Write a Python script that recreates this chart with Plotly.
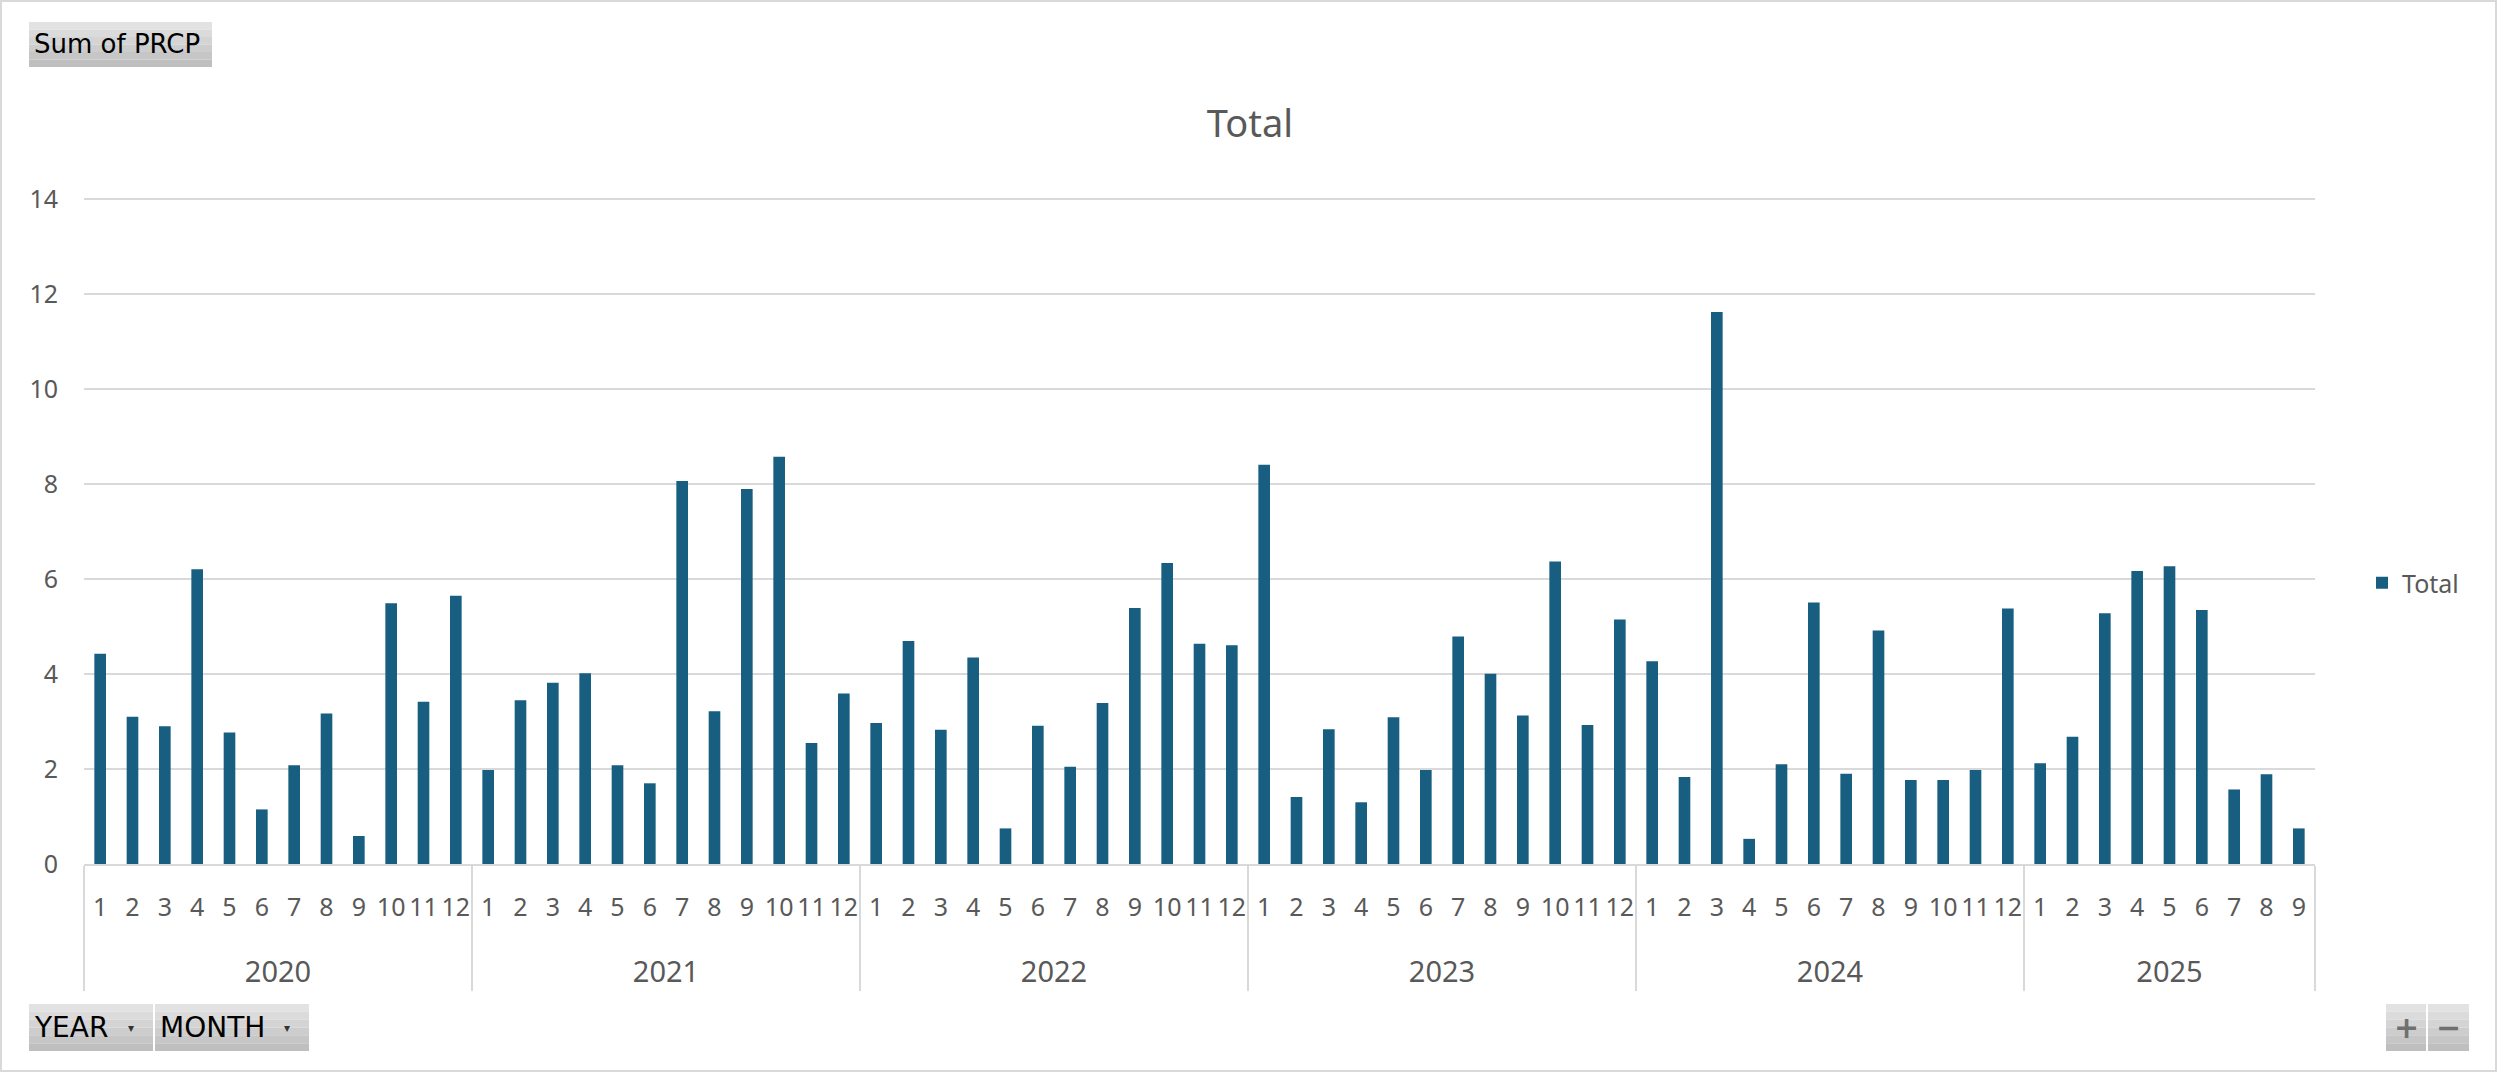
import plotly.graph_objects as go

# monthly precipitation sums
years = ["2020", "2021", "2022", "2023", "2024", "2025"]
months_per_year = [12, 12, 12, 12, 12, 9]
prcp_2020 = [4.43, 3.10, 2.90, 6.21, 2.77, 1.15, 2.08, 3.17, 0.59, 5.49, 3.42, 5.65]
prcp_2021 = [1.98, 3.45, 3.82, 4.02, 2.08, 1.70, 8.07, 3.22, 7.90, 8.58, 2.55, 3.59]
prcp_2022 = [2.97, 4.70, 2.83, 4.35, 0.75, 2.91, 2.05, 3.39, 5.39, 6.34, 4.64, 4.61]
prcp_2023 = [8.41, 1.41, 2.84, 1.30, 3.09, 1.98, 4.79, 4.01, 3.13, 6.37, 2.93, 5.15]
prcp_2024 = [4.27, 1.83, 11.63, 0.53, 2.10, 5.51, 1.90, 4.92, 1.77, 1.77, 1.98, 5.38]
prcp_2025 = [2.12, 2.68, 5.28, 6.17, 6.27, 5.35, 1.57, 1.89, 0.75]

W, H = 2500, 1074
YMAX = 14.05
L, R, B = 84, 185, 210
T = round((H - B) - (H - B - 199) * YMAX / 14)

BAR = "#175E80"
GREY_TXT = "#595959"
GRID = "#D9D9D9"


def px_x(p):
    return (p - L) / (W - L - R)


def px_y(p):
    return (H - B - p) / (H - T - B)


year_col, month_col, vals = [], [], []
for y, n, v in zip(years, months_per_year,
                   [prcp_2020, prcp_2021, prcp_2022, prcp_2023, prcp_2024, prcp_2025]):
    for m in range(n):
        # leading blank line pushes the year row further below the month row
        year_col.append("<br><span style='font-size:29px'>" + y + "</span>")
        month_col.append("<span style='font-size:25px'>" + str(m + 1) + "</span>")
        vals.append(v[m])

fig = go.Figure(
    go.Bar(
        x=[year_col, month_col],
        y=vals,
        name="Total",
        marker=dict(color=BAR, line=dict(width=0)),
        showlegend=True,
    )
)

shapes = []
annotations = []


def button(x0, y0, x1, y1, text, arrow=False, size=25, color="black", bold=False, center=False):
    # gradient look: light top, darker bottom
    steps = 6
    for i in range(steps):
        c = 226 - i * 7
        shapes.append(dict(type="rect", xref="paper", yref="paper",
                           x0=px_x(x0), x1=px_x(x1),
                           y0=px_y(y0 + (y1 - y0) * (i + 1) / steps),
                           y1=px_y(y0 + (y1 - y0) * i / steps),
                           fillcolor=f"rgb({c},{c},{c})", line=dict(width=0), layer="above"))
    t = f"<b>{text}</b>" if bold else text
    annotations.append(dict(
        text=t, xref="paper", yref="paper",
        x=px_x((x0 + x1) / 2) if center else px_x(x0 + 3),
        xanchor="center" if center else "left",
        y=px_y((y0 + y1) / 2), yanchor="middle", showarrow=False,
        font=dict(family="DejaVu Sans", size=size, color=color)))
    if arrow:
        annotations.append(dict(
            text="▾", xref="paper", yref="paper", x=px_x(x1 - 22), xanchor="center",
            y=px_y((y0 + y1) / 2), yanchor="middle", showarrow=False,
            font=dict(family="DejaVu Sans", size=12, color="#333333")))


button(29, 22, 212, 67, "Sum of PRCP", size=26)
button(29, 1004, 153, 1051, "YEAR", arrow=True, size=28)
button(155, 1004, 309, 1051, "MONTH", arrow=True, size=28)
button(2386, 1004, 2426, 1051, "+", size=30, color="#6f6f6f", bold=True, center=True)
button(2428, 1004, 2469, 1051, "−", size=30, color="#6f6f6f", bold=True, center=True)

# outer chart border
shapes.append(dict(type="rect", xref="paper", yref="paper",
                   x0=px_x(1), x1=px_x(2496), y0=px_y(1), y1=px_y(1071),
                   line=dict(color="#D9D9D9", width=2), layer="below"))

fig.update_layout(
    width=W, height=H,
    margin=dict(l=L, r=R, t=T, b=B, autoexpand=False),
    paper_bgcolor="white", plot_bgcolor="white",
    bargap=0.64,
    title=dict(text="Total", x=0.5, xref="container", xanchor="center",
               y=1 - 124 / H, yanchor="middle",
               font=dict(family="Noto Sans", size=38, color=GREY_TXT)),
    font=dict(family="Noto Sans", color=GREY_TXT),
    legend=dict(x=px_x(2362), xanchor="left", y=px_y(583), yanchor="middle",
                font=dict(family="Noto Sans", size=25, color=GREY_TXT),
                bgcolor="rgba(0,0,0,0)"),
    xaxis=dict(
        type="multicategory",
        tickmode="linear", tick0=0, dtick=1,
        showgrid=False,
        showline=True, linecolor=GRID, linewidth=2,
        showdividers=True, dividercolor=GRID, dividerwidth=2,
        ticks="", tickson="boundaries", tickangle=0,
        ticklabelstandoff=12,
        tickfont=dict(family="Noto Sans", size=32, color=GREY_TXT),
    ),
    yaxis=dict(
        range=[0, YMAX], dtick=2, showgrid=True, gridcolor=GRID, gridwidth=2,
        zeroline=False, showline=False, ticks="",
        tickfont=dict(family="Noto Sans", size=25, color=GREY_TXT),
        ticklabelstandoff=25,
    ),
    shapes=shapes,
    annotations=annotations,
)

# drop the page's default body margin so the figure sits at the window origin
fig.write_html("out.html", config={"displayModeBar": False},
               post_script="document.body.style.margin='0';")
